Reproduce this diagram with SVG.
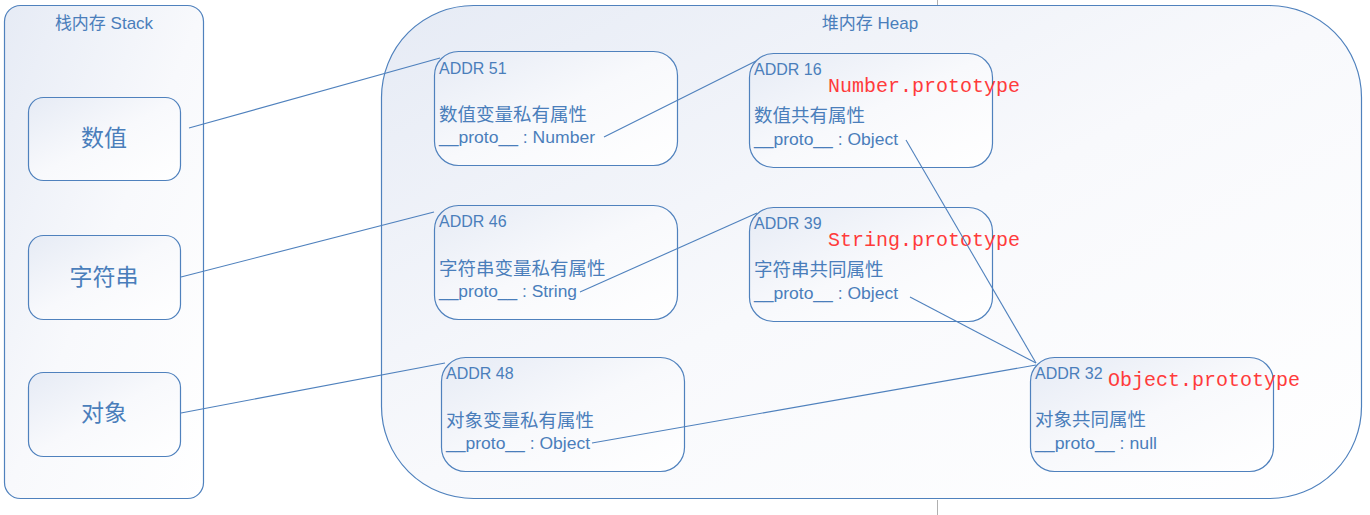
<svg xmlns="http://www.w3.org/2000/svg" width="1370" height="515" viewBox="0 0 1370 515">
<style>
.box{stroke:#4f81bd;stroke-width:1.2;fill:url(#g)}
.lat{font-family:"Liberation Sans","Noto Sans CJK SC",sans-serif;font-size:16px;fill:#4a7ebb}
.cjk{font-family:"Noto Sans CJK SC",sans-serif;font-size:18.5px;fill:#4a7ebb}
.big{font-family:"Noto Sans CJK SC",sans-serif;font-size:23px;fill:#4a7ebb;text-anchor:middle}
.ttl{font-family:"Liberation Sans","Noto Sans CJK SC",sans-serif;font-size:17px;fill:#4a7ebb;text-anchor:middle}
.red{font-family:"Liberation Mono",monospace;font-size:20px;fill:#ff3b3b}
.con line{stroke:#4f81bd;stroke-width:1.1}
</style>
<defs>
<linearGradient id="g" x1="0" y1="0" x2="1" y2="1">
<stop offset="0" stop-color="#e6ebf5"/>
<stop offset="0.5" stop-color="#f8f9fc"/>
<stop offset="1" stop-color="#ffffff"/>
</linearGradient>
</defs>
<rect width="1370" height="515" fill="#ffffff"/>
<line x1="937.5" y1="0" x2="937.5" y2="5" stroke="#b0b0b0"/>
<line x1="937.5" y1="500" x2="937.5" y2="515" stroke="#b0b0b0"/>
<g id="stack">
<rect class="box" x="4.5" y="5.5" width="199" height="493" rx="16"/>
<text class="ttl" x="104" y="29">栈内存 Stack</text>
</g>
<g id="heap">
<rect class="box" x="381.5" y="5.5" width="980" height="493" rx="92"/>
<text class="ttl" x="870" y="29">堆内存 Heap</text>
</g>
<g id="s-num">
<rect class="box" x="28.5" y="97.5" width="152" height="83" rx="15"/>
<text class="big" x="104" y="146">数值</text>
</g>
<g id="s-str">
<rect class="box" x="28.5" y="235.5" width="152" height="84" rx="15"/>
<text class="big" x="104" y="285">字符串</text>
</g>
<g id="s-obj">
<rect class="box" x="28.5" y="372.5" width="152" height="84" rx="15"/>
<text class="big" x="104" y="421">对象</text>
</g>
<g id="addr51">
<rect class="box" x="434.5" y="51.5" width="243" height="114" rx="24"/>
<text class="lat" x="439" y="74">ADDR 51</text>
<text class="cjk" x="439" y="121">数值变量私有属性</text>
<text class="lat" x="439" y="143" textLength="156" lengthAdjust="spacingAndGlyphs">__proto__ : Number</text>
</g>
<g id="addr16">
<rect class="box" x="749.5" y="53.5" width="243" height="114" rx="24"/>
<text class="lat" x="754" y="75">ADDR 16</text>
<text class="cjk" x="754" y="122">数值共有属性</text>
<text class="lat" x="754" y="145" textLength="144" lengthAdjust="spacingAndGlyphs">__proto__ : Object</text>
<text class="red" x="828" y="92">Number.prototype</text>
</g>
<g id="addr46">
<rect class="box" x="434.5" y="205.5" width="243" height="114" rx="24"/>
<text class="lat" x="439" y="227">ADDR 46</text>
<text class="cjk" x="439" y="275">字符串变量私有属性</text>
<text class="lat" x="439" y="297" textLength="138" lengthAdjust="spacingAndGlyphs">__proto__ : String</text>
</g>
<g id="addr39">
<rect class="box" x="749.5" y="207.5" width="243" height="114" rx="24"/>
<text class="lat" x="754" y="229">ADDR 39</text>
<text class="cjk" x="754" y="276">字符串共同属性</text>
<text class="lat" x="754" y="299" textLength="144" lengthAdjust="spacingAndGlyphs">__proto__ : Object</text>
<text class="red" x="828" y="246">String.prototype</text>
</g>
<g id="addr48">
<rect class="box" x="441.5" y="357.5" width="243" height="114" rx="24"/>
<text class="lat" x="446" y="379">ADDR 48</text>
<text class="cjk" x="446" y="427">对象变量私有属性</text>
<text class="lat" x="446" y="449" textLength="144" lengthAdjust="spacingAndGlyphs">__proto__ : Object</text>
</g>
<g id="addr32">
<rect class="box" x="1030.5" y="357.5" width="243" height="114" rx="24"/>
<text class="lat" x="1035" y="379">ADDR 32</text>
<text class="cjk" x="1035" y="426">对象共同属性</text>
<text class="lat" x="1035" y="449" textLength="122" lengthAdjust="spacingAndGlyphs">__proto__ : null</text>
<text class="red" x="1108" y="386">Object.prototype</text>
</g>
<g id="connectors" class="con">
<line x1="189" y1="128" x2="440" y2="58"/>
<line x1="181" y1="277" x2="434" y2="212"/>
<line x1="181" y1="413" x2="445" y2="363"/>
<line x1="604" y1="137" x2="756" y2="61"/>
<line x1="580" y1="292" x2="757" y2="213"/>
<line x1="592" y1="443" x2="1036" y2="365"/>
<line x1="906" y1="140" x2="1036" y2="363"/>
<line x1="910" y1="297" x2="1036" y2="363"/>
</g>
</svg>
